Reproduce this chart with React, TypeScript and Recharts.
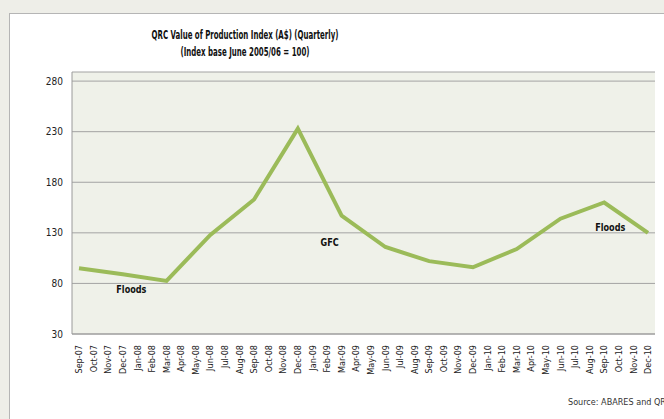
import React from "react";
import {
  LineChart,
  Line,
  XAxis,
  YAxis,
  CartesianGrid,
  ReferenceDot,
} from "recharts";

const months = [
  "Sep-07", "Oct-07", "Nov-07", "Dec-07",
  "Jan-08", "Feb-08", "Mar-08", "Apr-08", "May-08", "Jun-08",
  "Jul-08", "Aug-08", "Sep-08", "Oct-08", "Nov-08", "Dec-08",
  "Jan-09", "Feb-09", "Mar-09", "Apr-09", "May-09", "Jun-09",
  "Jul-09", "Aug-09", "Sep-09", "Oct-09", "Nov-09", "Dec-09",
  "Jan-10", "Feb-10", "Mar-10", "Apr-10", "May-10", "Jun-10",
  "Jul-10", "Aug-10", "Sep-10", "Oct-10", "Nov-10", "Dec-10",
];

// quarterly readings only
const quarters = [
  "Sep-07", "Dec-07", "Mar-08", "Jun-08", "Sep-08", "Dec-08", "Mar-09",
  "Jun-09", "Sep-09", "Dec-09", "Mar-10", "Jun-10", "Sep-10", "Dec-10",
];
const indexValues = [95, 89, 82.5, 128, 163, 233, 147, 116, 102, 96, 114, 144, 160, 130];

const yTicks = [30, 80, 130, 180, 230, 280];

const notes = [
  { text: "Floods", month: "Jan-08", value: 74.5, dx: -6 },
  { text: "GFC", month: "Mar-09", value: 121, dx: -12 },
  { text: "Floods", month: "Sep-10", value: 136, dx: 6 },
];

const data = months.map((m) => {
  const i = quarters.indexOf(m);
  return { month: m, value: i >= 0 ? indexValues[i] : null };
});

const FONT = "'DejaVu Sans Condensed', 'DejaVu Sans', sans-serif";

function MonthTick({ x, y, payload }: any) {
  return (
    <g transform={`translate(${x},${y})`}>
      <text
        transform="rotate(-90)"
        textAnchor="end"
        dy="0.35em"
        fontSize={9}
        fontFamily={FONT}
        fill="#222"
      >
        {payload.value}
      </text>
    </g>
  );
}

function NoteLabel({ viewBox, value, dx }: any) {
  const cx = viewBox.x + (viewBox.width || 0) / 2 + dx;
  const cy = viewBox.y + (viewBox.height || 0) / 2;
  return (
    <text
      transform={`translate(${cx},${cy}) scale(0.82,1)`}
      textAnchor="middle"
      dy="0.35em"
      fontSize={11}
      fontWeight="bold"
      fontFamily={FONT}
      fill="#111"
    >
      {value}
    </text>
  );
}

export default function App() {
  return (
    <div
      style={{
        position: "absolute",
        left: 0,
        top: 0,
        width: 664,
        height: 419,
        overflow: "hidden",
        background: "#eeeee8",
      }}
    >
      <div
        style={{
          position: "absolute",
          left: 9,
          top: 13,
          width: 680,
          height: 430,
          background: "#ffffff",
          border: "1px solid #b5b5b5",
        }}
      />
      <div
        style={{
          position: "absolute",
          left: 45,
          top: 26,
          width: 400,
          textAlign: "center",
          fontFamily: FONT,
          fontWeight: "bold",
          fontSize: 13,
          lineHeight: "17px",
          color: "#111",
          transform: "scaleX(0.6)",
          transformOrigin: "center",
        }}
      >
        QRC Value of Production Index (A$) (Quarterly)
        <br />
        (Index base June 2005/06 = 100)
      </div>
      <div style={{ position: "absolute", left: 0, top: 0 }}>
        <LineChart
          width={664}
          height={419}
          data={data}
          margin={{ top: 72, right: 9, bottom: 0, left: 0 }}
        >
          <CartesianGrid
            vertical={false}
            stroke="#a3a3a3"
            fill="#eff1e9"
            fillOpacity={1}
          />
          <XAxis
            dataKey="month"
            interval={0}
            padding={{ left: 7, right: 7 }}
            tickLine={false}
            axisLine={{ stroke: "#9a9a9a" }}
            tickSize={0}
            tickMargin={11}
            tick={<MonthTick />}
            height={85}
          />
          <YAxis
            width={72}
            domain={[30, 289]}
            ticks={yTicks}
            tickLine={false}
            axisLine={{ stroke: "#9a9a9a" }}
            tickMargin={3}
            tick={{ fontSize: 10, fontFamily: FONT, fill: "#222" }}
          />
          <Line
            type="linear"
            dataKey="value"
            stroke="#9bbb59"
            strokeWidth={4}
            dot={false}
            connectNulls
            isAnimationActive={false}
          />
          {notes.map((n, i) => (
            <ReferenceDot
              key={i}
              x={n.month}
              y={n.value}
              r={0}
              stroke="none"
              label={<NoteLabel value={n.text} dx={n.dx} />}
            />
          ))}
        </LineChart>
      </div>
      <div
        style={{
          position: "absolute",
          left: 568,
          top: 397,
          whiteSpace: "nowrap",
          fontFamily: FONT,
          fontSize: 9,
          color: "#333",
        }}
      >
        Source: ABARES and QRC
      </div>
    </div>
  );
}
